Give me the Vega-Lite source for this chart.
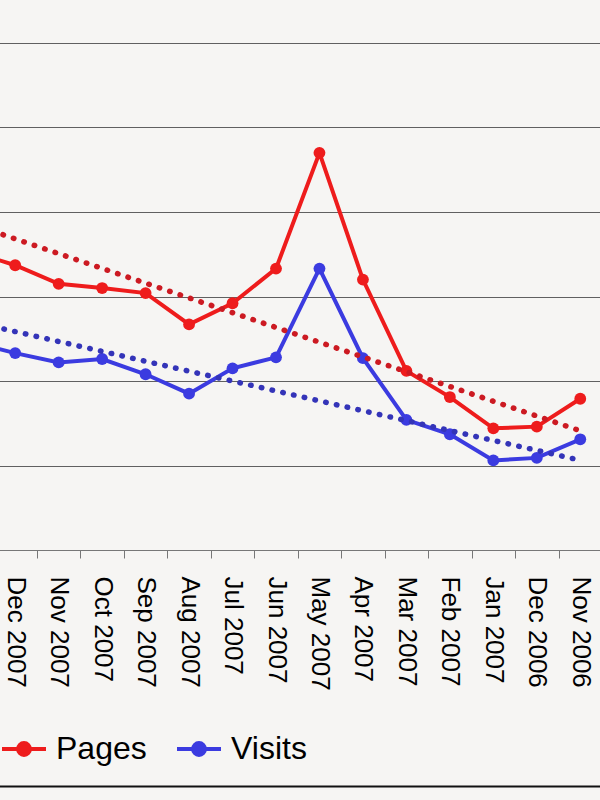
{
  "$schema": "https://vega.github.io/schema/vega-lite/v6.json",
  "width": 652,
  "height": 507,
  "autosize": "none",
  "padding": {"left": -50, "top": 43, "right": -2, "bottom": 250},
  "background": "#f6f5f3",
  "config": {
    "view": {"stroke": null},
    "font": "Liberation Sans"
  },
  "datasets": {
    "monthly": [
      {"month": "Jan 2008", "series": "Pages", "value": 3530},
      {"month": "Dec 2007", "series": "Pages", "value": 3370},
      {"month": "Nov 2007", "series": "Pages", "value": 3150},
      {"month": "Oct 2007", "series": "Pages", "value": 3100},
      {"month": "Sep 2007", "series": "Pages", "value": 3040},
      {"month": "Aug 2007", "series": "Pages", "value": 2670},
      {"month": "Jul 2007", "series": "Pages", "value": 2920},
      {"month": "Jun 2007", "series": "Pages", "value": 3330},
      {"month": "May 2007", "series": "Pages", "value": 4700},
      {"month": "Apr 2007", "series": "Pages", "value": 3200},
      {"month": "Mar 2007", "series": "Pages", "value": 2120},
      {"month": "Feb 2007", "series": "Pages", "value": 1810},
      {"month": "Jan 2007", "series": "Pages", "value": 1440},
      {"month": "Dec 2006", "series": "Pages", "value": 1460},
      {"month": "Nov 2006", "series": "Pages", "value": 1790},
      {"month": "Jan 2008", "series": "Visits", "value": 2460},
      {"month": "Dec 2007", "series": "Visits", "value": 2330},
      {"month": "Nov 2007", "series": "Visits", "value": 2220},
      {"month": "Oct 2007", "series": "Visits", "value": 2260},
      {"month": "Sep 2007", "series": "Visits", "value": 2080},
      {"month": "Aug 2007", "series": "Visits", "value": 1850},
      {"month": "Jul 2007", "series": "Visits", "value": 2150},
      {"month": "Jun 2007", "series": "Visits", "value": 2280},
      {"month": "May 2007", "series": "Visits", "value": 3330},
      {"month": "Apr 2007", "series": "Visits", "value": 2270},
      {"month": "Mar 2007", "series": "Visits", "value": 1540},
      {"month": "Feb 2007", "series": "Visits", "value": 1370},
      {"month": "Jan 2007", "series": "Visits", "value": 1060},
      {"month": "Dec 2006", "series": "Visits", "value": 1090},
      {"month": "Nov 2006", "series": "Visits", "value": 1310}
    ],
    "trendPages": [
      {"month": "Jan 2008", "value": 3857},
      {"month": "Nov 2006", "value": 1411}
    ],
    "trendVisits": [
      {"month": "Jan 2008", "value": 2702},
      {"month": "Nov 2006", "value": 1062}
    ]
  },
  "layer": [
    {
      "data": {"name": "monthly"},
      "mark": {
        "type": "line",
        "strokeWidth": 4,
        "point": {"filled": true, "size": 140, "opacity": 1}
      },
      "encoding": {
        "x": {
          "field": "month",
          "type": "ordinal",
          "bandPosition": 0.5,
          "scale": {
            "type": "band",
            "paddingInner": 0,
            "paddingOuter": 0,
            "domain": ["Jan 2008", "Dec 2007", "Nov 2007", "Oct 2007", "Sep 2007", "Aug 2007", "Jul 2007", "Jun 2007", "May 2007", "Apr 2007", "Mar 2007", "Feb 2007", "Jan 2007", "Dec 2006", "Nov 2006"]
          },
          "axis": {
            "orient": "bottom",
            "title": null,
            "labelAngle": 90,
            "labelFontSize": 26,
            "labelColor": "#000000",
            "labelPadding": 18,
            "tickBand": "extent",
            "tickSize": 8,
            "tickColor": "#777777",
            "domainColor": "#777777",
            "grid": false,
            "labelOverlap": false
          }
        },
        "y": {
          "field": "value",
          "type": "quantitative",
          "scale": {"domain": [0, 6000], "nice": false, "zero": true},
          "axis": {
            "title": null,
            "labels": false,
            "ticks": false,
            "domain": false,
            "grid": true,
            "gridColor": "#606060",
            "gridWidth": 1,
            "values": [1000, 2000, 3000, 4000, 5000, 6000]
          }
        },
        "color": {
          "field": "series",
          "type": "nominal",
          "scale": {"domain": ["Pages", "Visits"], "range": ["#ee1c1c", "#3b3be0"]},
          "legend": {
            "title": null,
            "orient": "none",
            "direction": "horizontal",
            "legendX": 50,
            "legendY": 682,
            "padding": 0,
            "labelFontSize": 32,
            "labelColor": "#000000",
            "symbolType": "M-1,0L1,0M-0.27,0A0.27,0.27,0,1,1,0.27,0A0.27,0.27,0,1,1,-0.27,0Z",
            "symbolSize": 1936,
            "symbolStrokeWidth": 4,
            "labelOffset": 8,
            "columnPadding": 22,
            "encode": {
              "symbols": {
                "update": {
                  "fill": {"scale": "color", "field": "value"},
                  "stroke": {"scale": "color", "field": "value"},
                  "opacity": {"value": 1}
                }
              }
            }
          }
        }
      }
    },
    {
      "data": {"name": "trendPages"},
      "mark": {
        "type": "line",
        "color": "#cc1a22",
        "strokeWidth": 5.5,
        "strokeCap": "round",
        "strokeDash": [0.5, 10.5]
      },
      "encoding": {
        "x": {
          "field": "month",
          "type": "ordinal",
          "bandPosition": 0.5,
          "axis": {
            "orient": "bottom",
            "offset": 236,
            "labels": false,
            "ticks": false,
            "grid": false,
            "title": null,
            "domain": true,
            "domainColor": "#111111",
            "domainWidth": 2
          }
        },
        "y": {"field": "value", "type": "quantitative"}
      }
    },
    {
      "data": {"name": "trendVisits"},
      "mark": {
        "type": "line",
        "color": "#3434b8",
        "strokeWidth": 5.5,
        "strokeCap": "round",
        "strokeDash": [0.5, 10.5]
      },
      "encoding": {
        "x": {"field": "month", "type": "ordinal", "bandPosition": 0.5, "axis": null},
        "y": {"field": "value", "type": "quantitative"}
      }
    }
  ],
  "resolve": {"axis": {"x": "independent"}}
}
